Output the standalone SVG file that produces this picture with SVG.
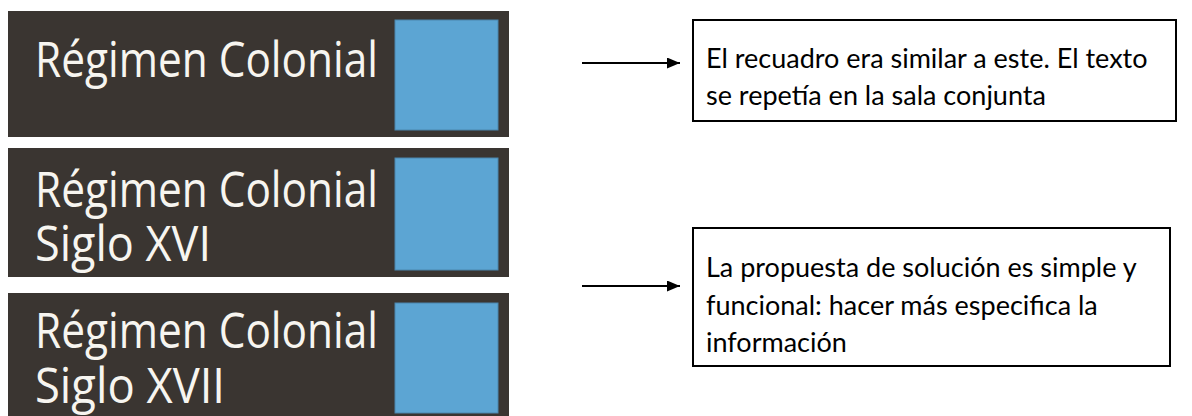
<svg xmlns="http://www.w3.org/2000/svg" width="1192" height="416" viewBox="0 0 1192 416">
<defs>
<style>
.panel{fill:#3a3531}
.sq{fill:#5ca5d3;stroke:#4a86ad;stroke-width:1}
.pt{font-family:"Open Sans","Noto Sans",sans-serif;font-size:49px;fill:#f7f5f0}
.box{fill:#fff;stroke:#000;stroke-width:2}
.bt{font-family:Lato,"Liberation Sans",sans-serif;font-size:27px;fill:#000}
.conn{stroke:#000;stroke-width:2;fill:none}
</style>
<marker id="ah" markerWidth="13" markerHeight="11" refX="13" refY="5.5" orient="auto" markerUnits="userSpaceOnUse">
<path d="M0,0 L13,5.5 L0,11 Z" fill="#000"/>
</marker>
</defs>
<rect width="1192" height="416" fill="#fff"/>
<g id="panel1">
<rect class="panel" x="8" y="11" width="501" height="126"/>
<rect class="sq" x="395" y="20" width="103" height="110"/>
<text class="pt" x="35" y="77" textLength="343" lengthAdjust="spacingAndGlyphs">Régimen Colonial</text>
</g>
<g id="panel2">
<rect class="panel" x="8" y="148" width="501" height="129"/>
<rect class="sq" x="395" y="158" width="103" height="112"/>
<text class="pt" x="35" y="207" textLength="343" lengthAdjust="spacingAndGlyphs">Régimen Colonial</text>
<text class="pt" x="35" y="261" textLength="176" lengthAdjust="spacingAndGlyphs">Siglo XVI</text>
</g>
<g id="panel3">
<rect class="panel" x="8" y="293" width="501" height="130"/>
<rect class="sq" x="395" y="303" width="103" height="110"/>
<text class="pt" x="35" y="348" textLength="343" lengthAdjust="spacingAndGlyphs">Régimen Colonial</text>
<text class="pt" x="35" y="403" textLength="190" lengthAdjust="spacingAndGlyphs">Siglo XVII</text>
</g>
<g id="note1">
<rect class="box" x="693" y="20" width="483" height="101"/>
<text class="bt" x="706" y="68">El recuadro era similar a este. El texto</text>
<text class="bt" x="706" y="105">se repetía en la sala conjunta</text>
</g>
<g id="note2">
<rect class="box" x="693" y="228" width="477" height="138"/>
<text class="bt" x="706" y="277">La propuesta de solución es simple y</text>
<text class="bt" x="706" y="315">funcional: hacer más especifica la</text>
<text class="bt" x="706" y="352">información</text>
</g>
<g id="connectors">
<line class="conn" x1="582" y1="63" x2="680" y2="63" marker-end="url(#ah)"/>
<line class="conn" x1="582" y1="286" x2="680" y2="286" marker-end="url(#ah)"/>
</g>
</svg>
